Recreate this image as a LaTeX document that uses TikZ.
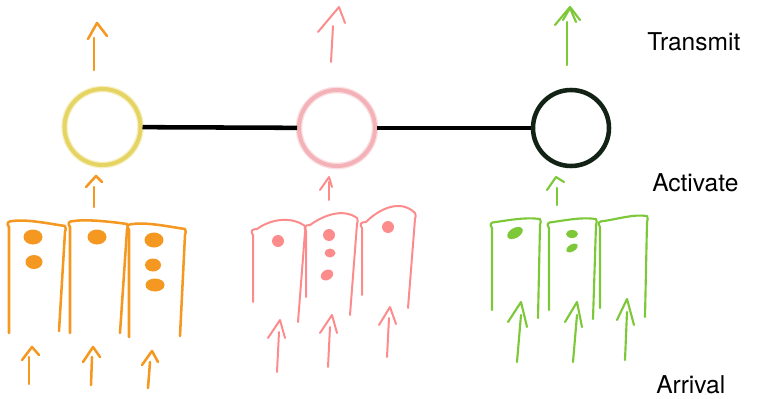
\documentclass[tikz,border=0pt]{standalone}
\usepackage{fontspec}
\setmainfont{TeX Gyre Heros}
\usetikzlibrary{arrows.meta}

\definecolor{inkorange}{RGB}{244,152,33}
\definecolor{inkpink}{RGB}{252,140,140}
\definecolor{inkgreen}{RGB}{124,200,56}
\definecolor{ringyellow}{RGB}{230,212,98}
\definecolor{glowyellow}{RGB}{246,240,196}
\definecolor{ringpink}{RGB}{244,178,184}
\definecolor{glowpink}{RGB}{250,222,224}
\definecolor{ringdark}{RGB}{18,34,20}

% open bucket: #1 style, #2 left x, #3 left bottom, #4 top y, #5 right x,
% #6 right top y, #7 right bottom x, #8 right bottom y, #9 arch
\newcommand\bucket[9]{%
  \draw[#1] (#2,#3) -- (#2,#4+5)
    .. controls (#2-3,#4+1) and (#2-1,#4-1) .. (#2+4,#4-1)
    .. controls (#2+18,#4-1-#9) and (#5-14,#6-#9) .. (#5,#6)
    .. controls (#5+1,#6+2) and (#5+1,#6+4) .. (#5,#6+6)
    -- (#7,#8);}

% hand-drawn arrow: #1 style, #2 tail, #3 shaft top, #4 left barb, #5 apex, #6 right barb
\newcommand\sarrow[6]{%
  \draw[#1] #2 -- #3;
  \draw[#1] #4 -- #5 -- #6;}

\tikzset{
  oink/.style={draw=inkorange, line width=1.9pt, line cap=round, line join=round},
  pink/.style={draw=inkpink, line width=1.5pt, line cap=round, line join=round},
  gink/.style={draw=inkgreen, line width=1.6pt, line cap=round, line join=round},
  odot/.style={fill=inkorange},
  pdot/.style={fill=inkpink},
  gdot/.style={fill=inkgreen},
  ring/.style={circle, inner sep=0pt, minimum size=57pt, line width=3pt},
  link/.style={draw=black, line width=3.4pt},
  label/.style={anchor=west, inner sep=0pt, font=\fontsize{18.4}{20}\selectfont}
}

\begin{document}
\begin{tikzpicture}[x=0.75pt,y=-0.75pt]
\useasboundingbox (0,0) rectangle (766,399);

% neurons and their links
\node[ring, draw=ringyellow, preaction={draw=glowyellow, line width=5pt}] (n1) at (102.5,127) {};
\node[ring, draw=ringpink, preaction={draw=glowpink, line width=5pt}] (n2) at (337,128) {};
\node[ring, draw=ringdark, line width=3.4pt] (n3) at (571,128) {};
\draw[link] (n1) -- (n2);
\draw[link] (n2) -- (n3);

% transmit arrows
\sarrow{oink}{(94,70)}{(94,38)}{(88,39)}{(97,23)}{(107,36)}
\sarrow{pink}{(331,62)}{(333,26)}{(318,32)}{(339,7)}{(345,23)}
\sarrow{gink}{(567,65)}{(567,22)}{(555,25)}{(570,7)}{(580,20)}
\draw[gink] (563,20) -- (570,8) -- (576,22);

% activate arrows
\sarrow{oink}{(94,207)}{(94,187)}{(86,187)}{(96,176)}{(102,182)}
\sarrow{pink}{(329,200)}{(329,182)}{(320,190)}{(329,177)}{(332,187)}
\sarrow{gink}{(557,205)}{(557,188)}{(547,190)}{(556,177)}{(564,182)}

% orange buckets
\bucket{oink}{9}{333}{222}{65}{226}{59}{331}{2}
\bucket{oink}{70}{333}{222}{127}{224}{120}{333}{2}
\bucket{oink}{129}{337}{225}{185}{229}{180}{336}{2}
\fill[odot] (33,237) ellipse [x radius=9.5, y radius=7.5];
\fill[odot] (34,262) ellipse [x radius=8.5, y radius=7];
\fill[odot] (97,237) ellipse [x radius=9.5, y radius=7.5];
\fill[odot] (154,240) ellipse [x radius=9.5, y radius=7.5];
\fill[odot] (153,265) ellipse [x radius=8, y radius=6.5];
\fill[odot] (155,285) ellipse [x radius=9.5, y radius=6.5];

% pink buckets
\bucket{pink}{253}{302}{230}{305}{226}{298}{322}{10}
\bucket{pink}{306}{297}{226}{357}{218}{350}{315}{10}
\bucket{pink}{362}{295}{223}{415}{213}{408}{308}{14}
\fill[pdot] (278,241) circle [radius=6];
\fill[pdot] (329,235) circle [radius=6];
\fill[pdot] (330,253) ellipse [x radius=5.5, y radius=4.5];
\fill[pdot, rotate around={30:(327,275)}] (327,275) ellipse [x radius=6.5, y radius=5];
\fill[pdot] (388,227) circle [radius=6];

% green buckets
\bucket{gink}{492}{310}{223}{540}{219}{538}{318}{2}
\bucket{gink}{549}{310}{223}{596}{219}{593}{319}{2}
\bucket{gink}{600}{308}{222}{647}{216}{645}{317}{2}
\fill[gdot, rotate around={30:(515,233)}] (515,233) ellipse [x radius=8.5, y radius=5];
\fill[gdot] (572,234) ellipse [x radius=6, y radius=4];
\fill[gdot, rotate around={30:(572,248)}] (572,248) ellipse [x radius=6.5, y radius=3.5];

% arrival arrows
\sarrow{oink}{(29,384)}{(29,357)}{(22,360)}{(32,347)}{(39,355)}
\sarrow{oink}{(91,385)}{(92,357)}{(83,362)}{(93,347)}{(100,357)}
\sarrow{oink}{(148,388)}{(150,362)}{(142,365)}{(152,351)}{(158,362)}
\sarrow{pink}{(277,372)}{(279,332)}{(268,338)}{(280,320)}{(285,338)}
\sarrow{pink}{(328,367)}{(330,327)}{(320,333)}{(332,315)}{(337,333)}
\sarrow{pink}{(387,357)}{(389,318)}{(379,325)}{(390,307)}{(396,324)}
\sarrow{gink}{(517,362)}{(521,315)}{(508,322)}{(521,302)}{(527,327)}
\sarrow{gink}{(573,362)}{(577,315)}{(565,322)}{(577,302)}{(582,327)}
\sarrow{gink}{(625,360)}{(627,312)}{(617,320)}{(627,299)}{(634,325)}

% stage labels
\node[label] (tl) at (647,42) {Transmit};
\node[label] (al) at (652,183) {Activate};
\node[label] (rl) at (656,385) {Arrival};
\end{tikzpicture}
\end{document}
